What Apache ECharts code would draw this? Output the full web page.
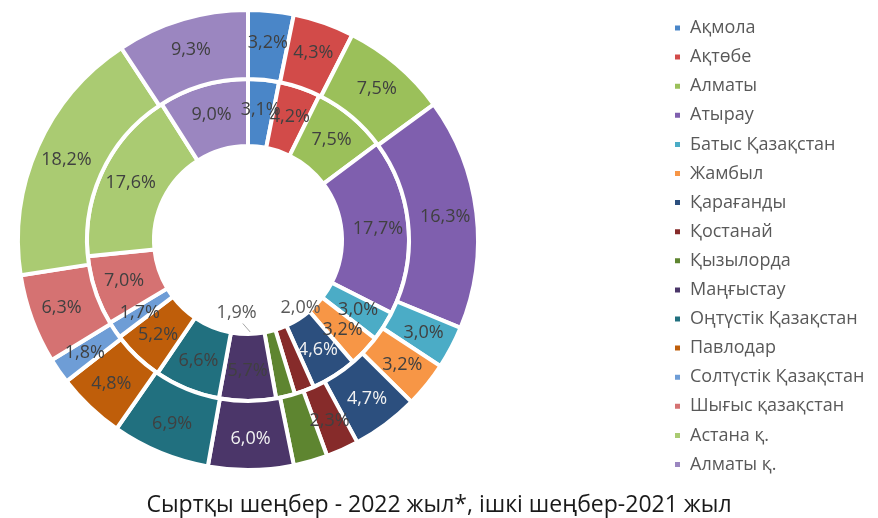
<!DOCTYPE html>
<html>
<head>
<meta charset="utf-8">
<script src="https://cdn.jsdelivr.net/npm/echarts@6/dist/echarts.min.js"></script>
<style>html,body{margin:0;padding:0;background:#fff}#c{width:878px;height:518px}</style>
</head>
<body>
<div id="c"></div>
<script>
const categories = ['Ақмола','Ақтөбе','Алматы','Атырау','Батыс Қазақстан','Жамбыл','Қарағанды','Қостанай','Қызылорда','Маңғыстау','Оңтүстік Қазақстан','Павлодар','Солтүстік Қазақстан','Шығыс қазақстан','Астана қ.','Алматы қ.'];
const values2022 = [3.2,4.3,7.5,16.3,3.0,3.2,4.7,2.3,2.4,6.0,6.9,4.8,1.8,6.3,18.2,9.3];
const values2021 = [3.1,4.2,7.5,17.7,3.0,3.2,4.6,2.0,1.9,5.7,6.6,5.2,1.7,7.0,17.6,9.0];
const colors = ['#4A86C8','#D24B49','#9BC05A','#7F5FAE','#4BACC6','#F79646','#2C4F7E','#862B2A','#5E8530','#4B3669','#21707F','#BF5E0A','#6E9DD6','#D57272','#AACB72','#9B86C0'];
const lightLabel2022 = [6,9];
const lightLabel2021 = [6];
const titleText = 'Сыртқы шеңбер - 2022 жыл*, ішкі шеңбер-2021 жыл';

const CX = 248, CY = 240;
const FONT = '"Open Sans", sans-serif';
const fmt = v => v.toFixed(1).replace('.', ',') + '%';

function buildData(vals, light, outsideIdx) {
  return vals.map((v, i) => {
    const d = { name: categories[i], value: v, itemStyle: { color: colors[i] },
      label: { color: light.indexOf(i) >= 0 ? '#f2f2f2' : '#404040' } };
    if (outsideIdx && outsideIdx.indexOf(i) >= 0) {
      d.label = { position: 'outside', color: '#595959' };
      d.labelLine = { show: true, lineStyle: { color: '#a6a6a6', width: 1 } };
    }
    return d;
  });
}

const chart = echarts.init(document.getElementById('c'), null, { renderer: 'canvas' });
const labelOffsets = { 7: [8, -51], 8: [-41, -51] };
chart.setOption({
  backgroundColor: '#fff',
  animation: false,
  color: colors,
  title: {
    text: titleText, left: 'center', top: 489,
    textStyle: { fontFamily: FONT, fontSize: 23, fontWeight: 'normal', color: '#1a1a1a' }
  },
  legend: {
    orient: 'vertical', left: 668, top: 13,
    icon: 'rect', itemWidth: 7, itemHeight: 7, itemGap: 9.1,
    textStyle: { fontFamily: FONT, fontSize: 18, color: '#595959', lineHeight: 20, padding: [0, 0, 0, 4] },
    data: categories
  },
  series: [
    {
      name: '2021', type: 'pie', center: [CX, CY], radius: [94, 161],
      startAngle: 90, clockwise: true, avoidLabelOverlap: false,
      itemStyle: { borderColor: '#fff', borderWidth: 4 },
      label: { show: true, position: 'inside', formatter: p => fmt(p.value), fontFamily: FONT, fontSize: 18 },
      labelLine: { show: false },
      labelLayout: function (params) {
        const off = labelOffsets[params.dataIndex];
        if (!off || !params.labelLinePoints) return {};
        const p0 = params.labelLinePoints[0];
        const k = 127 / 161;
        const mx = CX + (p0[0] - CX) * k, my = CY + (p0[1] - CY) * k;
        const x = mx + off[0], y = my + off[1];
        const sx = x + (mx - x) * 0.15, sy = y + 11;
        return { x: x, y: y, align: 'center', verticalAlign: 'middle',
          labelLinePoints: [[sx, sy], [(sx + mx) / 2, (sy + my) / 2], [mx, my]] };
      },
      data: buildData(values2021, lightLabel2021, [7, 8])
    },
    {
      name: '2022', type: 'pie', center: [CX, CY], radius: [161, 230],
      startAngle: 90, clockwise: true, avoidLabelOverlap: false,
      itemStyle: { borderColor: '#fff', borderWidth: 4 },
      label: { show: true, position: 'inside', formatter: p => fmt(p.value), fontFamily: FONT, fontSize: 18 },
      labelLine: { show: false },
      data: buildData(values2022, lightLabel2022, null)
    }
  ]
});
</script>
</body>
</html>
